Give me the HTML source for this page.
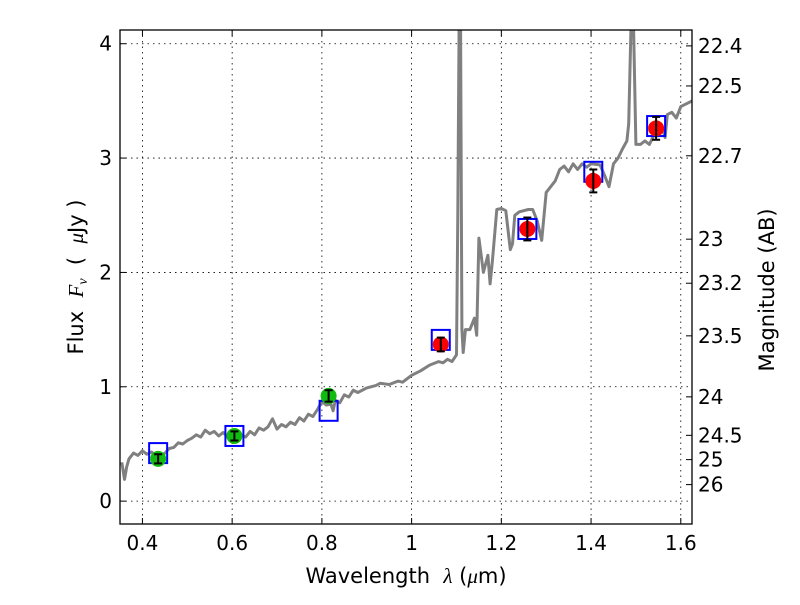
<!DOCTYPE html>
<html><head><meta charset="utf-8"><style>
body{margin:0;background:#fff;}
svg text{font-family:"DejaVu Sans","Liberation Sans",sans-serif;white-space:pre;}
</style></head><body>
<svg id="chart" width="800" height="600" xmlns="http://www.w3.org/2000/svg">
<rect width="800" height="600" fill="#fff"/>
<g id="grid"></g>
<g id="spec"></g>
<g id="marks"></g>
<rect x="120" y="30" width="572" height="494" fill="none" stroke="#000" stroke-width="1.3"/>
<g id="axes"></g>
<text x="406" y="583" font-size="21" text-anchor="middle">Wavelength&#160;&#160;<tspan font-family="Liberation Serif" font-style="italic">λ</tspan> (<tspan font-family="Liberation Serif" font-style="italic">μ</tspan>m)</text>
<text transform="translate(83,277) rotate(-90)" font-size="21" text-anchor="middle">Flux&#160;&#160;<tspan font-family="Liberation Serif" font-style="italic">F<tspan font-size="14" dy="4">ν</tspan></tspan><tspan dy="-4">&#160;&#160;(&#160;&#160;</tspan><tspan font-family="Liberation Serif" font-style="italic">μ</tspan>Jy&#160;)</text>
<text transform="translate(774,290) rotate(-90)" font-size="21" text-anchor="middle">Magnitude (AB)</text>
</svg>
<script>
const xTicks=[0.4,0.6,0.8,1.0,1.2,1.4,1.6];
const xTickLabels=["0.4","0.6","0.8","1","1.2","1.4","1.6"];
const yTicks=[0,1,2,3,4];
const magTicks=[22.4,22.5,22.7,23,23.2,23.5,24,24.5,25,26];
const magLabels=["22.4","22.5","22.7","23","23.2","23.5","24","24.5","25","26"];
const specWl=[0.354,0.36,0.365,0.37,0.38,0.39,0.40,0.41,0.42,0.43,0.44,0.45,0.46,0.47,0.48,0.49,0.50,0.51,0.52,0.53,0.54,0.55,0.56,0.57,0.58,0.59,0.60,0.61,0.62,0.63,0.64,0.65,0.66,0.67,0.68,0.69,0.70,0.71,0.72,0.73,0.74,0.75,0.76,0.77,0.78,0.79,0.80,0.81,0.82,0.825,0.83,0.84,0.85,0.86,0.87,0.88,0.90,0.92,0.93,0.95,0.97,0.98,1.00,1.02,1.04,1.06,1.07,1.08,1.09,1.10,1.103,1.106,1.109,1.112,1.115,1.12,1.13,1.14,1.145,1.15,1.16,1.17,1.175,1.18,1.19,1.20,1.21,1.22,1.225,1.23,1.24,1.26,1.27,1.28,1.29,1.30,1.32,1.33,1.34,1.35,1.36,1.37,1.38,1.39,1.40,1.42,1.43,1.44,1.45,1.46,1.47,1.48,1.484,1.49,1.494,1.50,1.51,1.52,1.53,1.54,1.55,1.56,1.565,1.57,1.58,1.59,1.60,1.625];
const specFlux=[0.34,0.19,0.30,0.37,0.42,0.40,0.44,0.41,0.43,0.40,0.39,0.42,0.46,0.47,0.51,0.50,0.53,0.55,0.58,0.56,0.62,0.59,0.61,0.57,0.60,0.56,0.57,0.55,0.58,0.56,0.61,0.58,0.64,0.62,0.65,0.72,0.63,0.67,0.65,0.69,0.67,0.73,0.70,0.76,0.74,0.80,0.87,0.84,0.85,0.79,0.88,0.86,0.93,0.91,0.97,0.95,0.99,1.01,1.03,1.02,1.05,1.04,1.10,1.14,1.19,1.22,1.21,1.24,1.22,1.28,2.5,4.3,4.3,1.5,1.3,1.5,1.5,1.6,1.45,2.3,2.0,2.15,1.9,2.1,2.55,2.56,2.54,2.2,2.25,2.5,2.53,2.55,2.55,2.45,2.28,2.7,2.8,2.9,2.93,2.88,2.95,2.9,2.95,2.92,2.95,2.94,2.85,2.75,2.95,3.0,3.08,3.15,3.3,4.3,4.3,3.12,3.12,3.15,3.12,3.2,3.3,3.25,3.18,3.38,3.4,3.35,3.45,3.5];
const obsWl=[0.435,0.605,0.815,1.065,1.258,1.405,1.545];
const obsFlux=[0.37,0.57,0.92,1.37,2.38,2.80,3.26];
const obsErr=[0.04,0.04,0.05,0.06,0.10,0.10,0.10];
const modelFlux=[0.42,0.57,0.79,1.41,2.38,2.88,3.28];
const NS="http://www.w3.org/2000/svg";
const X0=120,X1=692,Y0=30,Y1=524,xmin=0.35,xmax=1.625,ymin=-0.2,ymax=4.12;
const xs=v=>X0+(v-xmin)/(xmax-xmin)*(X1-X0);
const ys=v=>Y1-(v-ymin)/(ymax-ymin)*(Y1-Y0);
function mk(tag,attrs,parent){const e=document.createElementNS(NS,tag);for(const k in attrs)e.setAttribute(k,attrs[k]);parent.appendChild(e);return e;}
const grid=document.getElementById('grid'),axes=document.getElementById('axes'),spec=document.getElementById('spec'),marks=document.getElementById('marks');
xTicks.forEach((t,i)=>{const x=xs(t);
 const g=mk('line',{x1:x,x2:x,y1:Y0,y2:Y1,stroke:'#000','stroke-width':0.8,'stroke-dasharray':'1.5,4'},grid);
 
 mk('line',{x1:x,x2:x,y1:Y1,y2:Y1-6,stroke:'#000'},axes);mk('line',{x1:x,x2:x,y1:Y0,y2:Y0+6,stroke:'#000'},axes);
 const tx=mk('text',{x:x,y:Y1+26,'font-size':20,'text-anchor':'middle'},axes);tx.textContent=xTickLabels[i];
 });
yTicks.forEach(t=>{const y=ys(t);
 const g=mk('line',{x1:X0,x2:X1,y1:y,y2:y,stroke:'#000','stroke-width':0.8,'stroke-dasharray':'1.5,4'},grid);
 
 mk('line',{x1:X0,x2:X0+6,y1:y,y2:y,stroke:'#000'},axes);
 const tx=mk('text',{x:X0-8,y:y+7,'font-size':20,'text-anchor':'end'},axes);tx.textContent=String(t);
 });
magTicks.forEach((m,i)=>{const f=Math.pow(10,(23.9-m)/2.5);const y=ys(f);
 mk('line',{x1:X1,x2:X1-6,y1:y,y2:y,stroke:'#000'},axes);
 const tx=mk('text',{x:X1+6,y:y+7,'font-size':20},axes);tx.textContent=magLabels[i];
 });
const pts=specWl.map((w,i)=>xs(w).toFixed(1)+','+ys(Math.min(specFlux[i],4.3)).toFixed(1)).join(' ');
const cp=mk('clipPath',{id:'cp'},spec);mk('rect',{x:X0,y:Y0,width:X1-X0,height:Y1-Y0},cp);
const pl=mk('polyline',{points:pts,fill:'none',stroke:'#808080','stroke-width':3,'stroke-linejoin':'round','clip-path':'url(#cp)'},spec);

obsWl.forEach((w,i)=>{const x=xs(w);
 const b=mk('rect',{x:x-9,y:ys(modelFlux[i])-10,width:18,height:20,fill:'none',stroke:'#0000ff','stroke-width':2},marks);
 
 const c=mk('circle',{cx:x,cy:ys(obsFlux[i]),r:8,fill:i<3?'#11bb11':'#ff0000'},marks);
 
 const yt=ys(obsFlux[i]+obsErr[i]),yb=ys(obsFlux[i]-obsErr[i]);
 mk('line',{x1:x,x2:x,y1:yt,y2:yb,stroke:'#000','stroke-width':2},marks);
 mk('line',{x1:x-4,x2:x+4,y1:yt,y2:yt,stroke:'#000','stroke-width':2},marks);
 mk('line',{x1:x-4,x2:x+4,y1:yb,y2:yb,stroke:'#000','stroke-width':2},marks);});
</script>
</body></html>
